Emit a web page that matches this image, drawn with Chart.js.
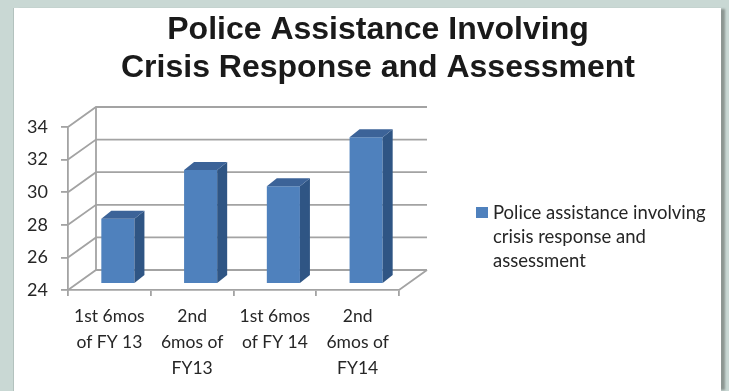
<!DOCTYPE html>
<html lang="en">
  <head>
    <script src="https://cdn.jsdelivr.net/npm/chart.js"></script>
    <style>
      html, body { margin: 0; padding: 0; }
      body { width: 729px; height: 391px; background: #c9d8d4; position: relative; overflow: hidden; }
      #panel {
        position: absolute; left: 13px; top: 8px; width: 707px; height: 383px;
        background: #ffffff; border-left: 1px solid #b3c2be;
        box-shadow: 5px 0 2px -1px #8c9692;
      }
    </style>
  </head>
  <body>
    <div id="panel"><canvas id="chart" width="707" height="383"></canvas></div>
    <script type="text/javascript">
      const titleLines = ['Police Assistance Involving', 'Crisis Response and Assessment'];
      const periods = [
        ['1st 6mos', 'of FY 13'],
        ['2nd', '6mos of', 'FY13'],
        ['1st 6mos', 'of FY 14'],
        ['2nd', '6mos of', 'FY14'],
      ];
      const assistance = [28, 31, 30, 33];
      const seriesLabel = ['Police assistance involving', 'crisis response and', 'assessment'];
      const yMin = 24, yMax = 34, yStep = 2;

      const gridColor = '#a3a3a3';
      const textColor = '#262626';
      const font = 'Lato';
      // depth of the walls, bar offset into the box, and bar thickness
      const wall = { dx: 28, dy: -20 };
      const barShift = { dx: 8.5, dy: -6 };
      const barDepth = { dx: 10, dy: -8 };

      const box3d = {
        id: 'box3d',
        beforeDatasetsDraw(chart) {
          const { ctx, chartArea: a, scales: { y } } = chart;
          ctx.save();
          ctx.strokeStyle = gridColor;
          ctx.lineWidth = 1.8;
          y.ticks.forEach((t) => {
            const py = y.getPixelForValue(t.value);
            ctx.beginPath();
            ctx.moveTo(a.left, py);
            ctx.lineTo(a.left + wall.dx, py + wall.dy);
            ctx.lineTo(a.right + wall.dx, py + wall.dy);
            ctx.stroke();
          });
          ctx.beginPath();
          ctx.moveTo(a.left + wall.dx, a.top + wall.dy);
          ctx.lineTo(a.left + wall.dx, a.bottom + wall.dy);
          ctx.moveTo(a.right, a.bottom);
          ctx.lineTo(a.right + wall.dx, a.bottom + wall.dy);
          ctx.stroke();
          ctx.restore();

          ctx.save();
          ctx.translate(barShift.dx, barShift.dy);
        },
        afterDatasetsDraw(chart) {
          const { ctx } = chart;
          chart.getDatasetMeta(0).data.forEach((bar) => {
            const { x, y, base, width } = bar.getProps(['x', 'y', 'base', 'width'], true);
            const l = x - width / 2, r = x + width / 2;
            ctx.fillStyle = '#2f5584';
            ctx.beginPath();
            ctx.moveTo(r, y);
            ctx.lineTo(r + barDepth.dx, y + barDepth.dy);
            ctx.lineTo(r + barDepth.dx, base + barDepth.dy);
            ctx.lineTo(r, base);
            ctx.closePath();
            ctx.fill();
            ctx.fillStyle = '#3c6398';
            ctx.beginPath();
            ctx.moveTo(l, y);
            ctx.lineTo(l + barDepth.dx, y + barDepth.dy);
            ctx.lineTo(r + barDepth.dx, y + barDepth.dy);
            ctx.lineTo(r, y);
            ctx.closePath();
            ctx.fill();
          });
          ctx.restore();
        },
        afterDraw(chart) {
          const { ctx } = chart;
          const ds = chart.data.datasets[0];
          ctx.save();
          // title, centred a little right of the canvas middle
          ctx.fillStyle = '#1a1a1a';
          ctx.font = 'bold 32px "Liberation Sans"';
          ctx.textAlign = 'center';
          ctx.textBaseline = 'middle';
          titleLines.forEach((line, i) => ctx.fillText(line, 364, 22 + i * 38));
          // legend
          ctx.textAlign = 'left';
          ctx.fillStyle = ds.backgroundColor;
          ctx.fillRect(462, 199, 12, 11);
          ctx.fillStyle = textColor;
          ctx.font = '18.5px ' + font;
          seriesLabel.forEach((line, i) => ctx.fillText(line, 479, 205 + i * 24));
          ctx.restore();
        },
      };

      new Chart(document.getElementById('chart'), {
        type: 'bar',
        data: {
          labels: periods,
          datasets: [
            {
              label: seriesLabel.join(' '),
              data: assistance,
              base: yMin,
              backgroundColor: '#4f81bd',
              categoryPercentage: 1,
              barPercentage: 0.4,
            },
          ],
        },
        options: {
          responsive: false,
          animation: false,
          devicePixelRatio: 1,
          layout: { padding: { left: 0, right: 0, top: 119, bottom: 0 } },
          plugins: {
            legend: { display: false },
            tooltip: { enabled: false },
            title: { display: false },
          },
          scales: {
            x: {
              grid: { drawOnChartArea: false, tickLength: 6, color: gridColor, lineWidth: 1.8 },
              border: { color: gridColor, width: 1.8 },
              ticks: {
                color: textColor,
                padding: 8,
                maxRotation: 0,
                autoSkip: false,
                font: { family: font, size: 17.5, lineHeight: 1.46 },
              },
              afterFit(scale) { scale.height = 101; },
            },
            y: {
              min: yMin,
              max: yMax,
              grid: { drawOnChartArea: false, tickLength: 7, color: gridColor, lineWidth: 1.8 },
              border: { color: gridColor, width: 1.8 },
              ticks: {
                stepSize: yStep,
                color: textColor,
                padding: 13,
                font: { family: font, size: 18 },
              },
              afterFit(scale) { scale.width = 54; },
            },
            // empty right-hand box that keeps room for the legend
            side: {
              type: 'linear',
              position: 'right',
              ticks: { display: false },
              grid: { display: false },
              border: { display: false },
              afterFit(scale) { scale.width = 322; },
            },
          },
        },
        plugins: [box3d],
      });
    </script>
  </body>
</html>
